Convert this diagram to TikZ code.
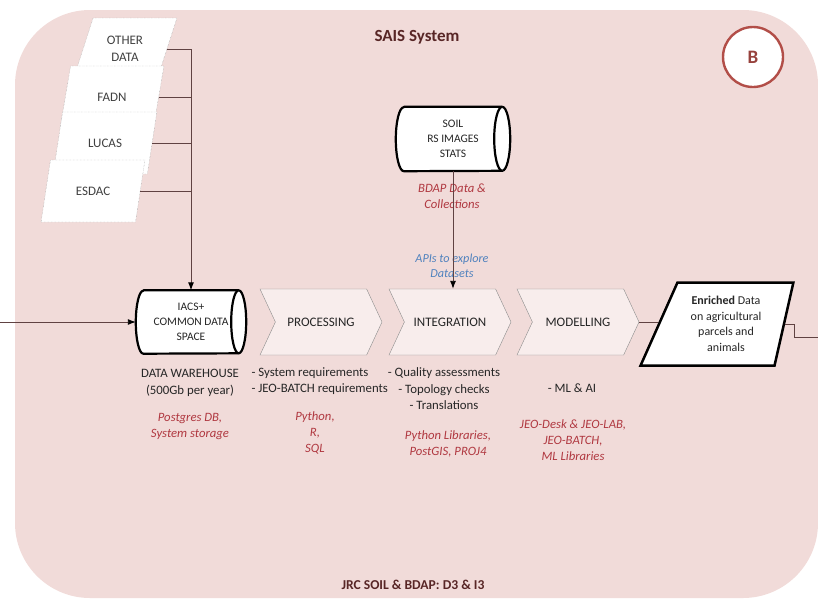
\documentclass[tikz,border=0pt]{standalone}
\usepackage{fontspec}
\setmainfont{Carlito}
\usetikzlibrary{shapes.geometric,shapes.symbols,arrows.meta}
\pgfdeclarelayer{background}
\pgfsetlayers{background,main}
\definecolor{bgpink}{RGB}{241,219,217}
\definecolor{stepfill}{RGB}{248,237,236}
\definecolor{wirecol}{RGB}{96,66,66}
\definecolor{toolred}{RGB}{176,56,64}
\definecolor{apiblue}{RGB}{80,130,190}
\definecolor{titlebrown}{RGB}{88,38,38}
\definecolor{markred}{RGB}{178,78,72}
% drum outline round a named node: name, half height, cap radius
\newcommand\drumoutline[3]{%
  \draw[drumline] ([xshift=#3]#1.north west) -- ([xshift=-#3]#1.north east)
    arc[start angle=90, end angle=-90, x radius=#3, y radius=#2]
    -- ([xshift=#3]#1.south west)
    arc[start angle=270, end angle=90, x radius=#3, y radius=#2] -- cycle;
  \draw[drumline] ([xshift=-#3]#1.north east)
    arc[start angle=90, end angle=270, x radius=#3, y radius=#2];}
\begin{document}
\begin{tikzpicture}[x=1pt,y=-1pt,
      every node/.style={font=\fontsize{12.8}{16.5}\selectfont, text=black!85},
      source/.style={trapezium, trapezium left angle=66, trapezium right angle=114,
        trapezium stretches=true, minimum width=104pt, minimum height=62pt, inner sep=0pt,
        fill=white, draw=black!40, densely dotted, align=center,
        font=\fontsize{13}{17}\selectfont, text=black!75},
      drumbox/.style={inner sep=0pt, align=center, font=\fontsize{11.5}{15}\selectfont},
      drumline/.style={draw=black, fill=white, line width=2.2pt, line join=round},
      stage/.style={signal, signal to=east, signal from=west, signal pointer angle=130,
        minimum width=122pt, minimum height=66pt, fill=stepfill, draw=black!45, thin,
        font=\fontsize{13}{16}\selectfont},
      result/.style={trapezium, trapezium left angle=64, trapezium right angle=104,
        trapezium stretches=true, minimum width=153pt, minimum height=83pt, inner sep=0pt,
        fill=white, draw=black, line width=2.5pt, align=center,
        font=\fontsize{12}{15.5}\selectfont},
      note/.style={align=center},
      tool/.style={align=center, text=toolred, font=\itshape\fontsize{12.7}{16}\selectfont},
      api/.style={align=center, text=apiblue, font=\itshape\fontsize{12.2}{15}\selectfont},
      wire/.style={draw=wirecol, line width=0.9pt},
      tip/.style={-{Latex[length=8pt,width=6pt,color=black]}}
    ]
      \useasboundingbox (0,0) rectangle (818,600);
      \begin{pgfonlayer}{background}
        \fill[bgpink, rounded corners=75pt] (15,10) rectangle (818,598);
      \end{pgfonlayer}

      \node[font=\bfseries\fontsize{17}{20}\selectfont, text=titlebrown] (title) at (417,37) {SAIS System};
      \node[circle, draw=markred, line width=2.4pt, fill=white, minimum size=60pt,
        font=\bfseries\fontsize{19}{22}\selectfont, text=markred!85!black] (badge) at (753,57) {B};

      % input datasets
      \node[source] (other) at (125,49) {OTHER\\DATA};
      \node[source] (fadn) at (112,97) {FADN};
      \node[source] (lucas) at (105,143) {LUCAS};
      \node[source] (esdac) at (93,191) {ESDAC};

      \node[drumbox, minimum width=110pt, minimum height=63pt] (iacs) at (191,322) {IACS+\\COMMON DATA\\SPACE};
      \node[drumbox, minimum width=114pt, minimum height=64pt] (soil) at (453,139) {SOIL\\RS IMAGES\\STATS};

      \node[stage] (proc) at (321,322) {PROCESSING};
      \node[stage] (integ) at (450,322) {INTEGRATION};
      \node[stage] (model) at (578,322) {MODELLING};
      \node[result] (enrich) at (726,324) {\textbf{Enriched} Data\\on agricultural\\parcels and\\animals};

      \node[note] (dw) at (190,383) {DATA WAREHOUSE\\(500Gb per year)};
      \node[tool] (dwtools) at (190,427) {Postgres DB,\\System storage};
      \node[note, align=left, anchor=west] (procreq) at (248,381) {- System requirements\\- JEO-BATCH requirements};
      \node[tool] (proctools) at (315,433) {Python,\\R,\\SQL};
      \node[note] (integchk) at (444,389) {- Quality assessments\\- Topology checks\\- Translations};
      \node[tool] (integtools) at (448,444) {Python Libraries,\\PostGIS, PROJ4};
      \node[note] (mlai) at (572,388) {- ML \& AI};
      \node[tool] (modeltools) at (573,440) {JEO-Desk \& JEO-LAB,\\JEO-BATCH,\\ML Libraries};
      \node[tool] (bdap) at (452,196) {BDAP Data \&\\Collections};
      \node[api] (apis) at (452,266) {APIs to explore\\Datasets};

      \node[font=\bfseries\fontsize{13.6}{16}\selectfont, text=titlebrown] (footer) at (413,585) {JRC SOIL \& BDAP: D3 \& I3};

      \begin{pgfonlayer}{background}
        \drumoutline{iacs}{31.5pt}{7.5pt}
        \drumoutline{soil}{32pt}{8pt}
      \end{pgfonlayer}

      \coordinate (feed) at (0,322);
      \coordinate (exit) at (818,337);
      \begin{scope}[wire]
        \draw[tip] (other.east) -| (iacs.north);
        \draw (fadn.east) -- (fadn.east -| iacs.north);
        \draw (lucas.east) -- (lucas.east -| iacs.north);
        \draw (esdac.east) -- (esdac.east -| iacs.north);
        \draw[tip] (feed) -- (iacs.west);
        \draw[tip] (soil.south) -- (soil.south |- integ.north);
        \draw (model.east) -- (model.east -| enrich.west);
        \draw (enrich.east) -- ++(9,0) |- (exit);
      \end{scope}
    \end{tikzpicture}
\end{document}
